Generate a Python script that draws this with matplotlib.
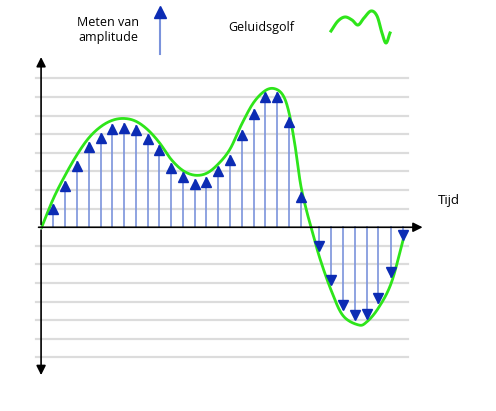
import numpy as np
import matplotlib
matplotlib.use("Agg")
import matplotlib.pyplot as plt

# sample times and measured amplitudes
sample_t = [1,2,3,4,5,6,7,8,9,10,11,12,13,14,15,16,17,18,19,20,21,22,
            23.6,24.6,25.6,26.6,27.6,28.6,29.7,30.7]
sample_v = [1.2,2.42,3.53,4.55,5.0,5.48,5.56,5.43,4.98,4.37,3.4,2.9,2.54,2.63,3.23,3.84,5.2,6.3,7.2,7.2,5.86,1.83,
            -1.22,-3.05,-4.4,-4.95,-4.9,-4.05,-2.65,-0.63]
# sound wave key points
wave_t = [0,1,2,3,4,5,6,7,8,9,10,11,12,13,14,15,16,17,18,19,19.8,20.5,21,21.5,22,22.5,22.9,
          23.6,24.6,25.6,26.9,27.6,28.6,29.7,30.7]
wave_v = [0,1.55,2.8,3.9,4.8,5.4,5.75,5.85,5.7,5.25,4.55,3.65,3.05,2.8,2.9,3.4,4.2,5.55,6.7,7.35,7.45,7.1,6.2,4.5,2.3,0.9,0,
          -1.6,-3.4,-4.75,-5.25,-5.1,-4.35,-3.0,-0.7]
grid_levels = list(range(-7, 9))

def catmull(t, v, n=20):
    t = np.asarray(t, float); v = np.asarray(v, float)
    P = np.column_stack([t, v])
    P = np.vstack([2*P[0]-P[1], P, 2*P[-1]-P[-2]])
    out = []
    s = np.linspace(0, 1, n, endpoint=False)[:, None]
    for i in range(1, len(P)-2):
        p0, p1, p2, p3 = P[i-1], P[i], P[i+1], P[i+2]
        out.append(0.5*((2*p1) + (-p0+p2)*s + (2*p0-5*p1+4*p2-p3)*s**2 + (-p0+3*p1-3*p2+p3)*s**3))
    out.append(P[-2][None, :])
    return np.vstack(out)

fig = plt.figure(figsize=(4.96, 4.11), dpi=100)
ax = fig.add_axes([0, 0, 1, 1])
ax.set_xlim(-3.54, 38.6)
ax.set_ylim(-9.88, 12.22)
ax.axis('off')

for g in grid_levels:
    if g != 0:
        ax.plot([-0.49, 31.1], [g, g], color='#dcdcdc', lw=1.6, zorder=1)

stem_c = '#7b93dc'
tri_c = '#0c2cb4'
half = 0.22
for t, v in zip(sample_t, sample_v):
    ax.plot([t, t], [0, v], color=stem_c, lw=1.2, zorder=2)
    if v > 0:
        ax.plot(t, v - half, marker='^', ms=7.5, color=tri_c, mec=tri_c, zorder=4, ls='none')
    else:
        ax.plot(t, v + half, marker='v', ms=7.5, color=tri_c, mec=tri_c, zorder=4, ls='none')

c = catmull(wave_t, wave_v)
ax.plot(c[:, 0], c[:, 1], color='#2ee51a', lw=2.0, zorder=3)

# axes arrows
ax.annotate('', xy=(32.6, 0), xytext=(-0.5, 0),
            arrowprops=dict(arrowstyle='-|>', color='black', lw=1.2, mutation_scale=14), zorder=5)
ax.annotate('', xy=(-0.05, 9.3), xytext=(-0.05, 0),
            arrowprops=dict(arrowstyle='-|>', color='black', lw=1.2, mutation_scale=14))
ax.annotate('', xy=(-0.05, -8.1), xytext=(-0.05, 0),
            arrowprops=dict(arrowstyle='-|>', color='black', lw=1.2, mutation_scale=14))
ax.text(33.7, 1.45, 'Tijd', fontsize=9.5, family='Open Sans', va='center', ha='left')

# legend overlay in pixel units
lx = fig.add_axes([0, 0, 1, 1], facecolor='none')
lx.set_xlim(0, 496); lx.set_ylim(411, 0); lx.axis('off')
lx.text(108, 30, 'Meten van\namplitude', ha='center', va='center', fontsize=9,
        family='Open Sans', linespacing=1.3)
lx.plot([160, 160], [54, 12], color=stem_c, lw=1.5)
lx.plot(160, 12, marker='^', ms=8, color=tri_c, mec=tri_c)
lx.text(261, 28, 'Geluidsgolf', ha='center', va='center', fontsize=9, family='Open Sans')
sq = catmull([331, 338, 345, 352, 358, 364, 371, 377, 382, 386, 390],
             [31, 21, 17, 20, 25, 18, 11, 16, 33, 43, 33], 12)
lx.plot(sq[:, 0], sq[:, 1], color='#2ee51a', lw=2.2)

fig.savefig('out.png', dpi=100)
